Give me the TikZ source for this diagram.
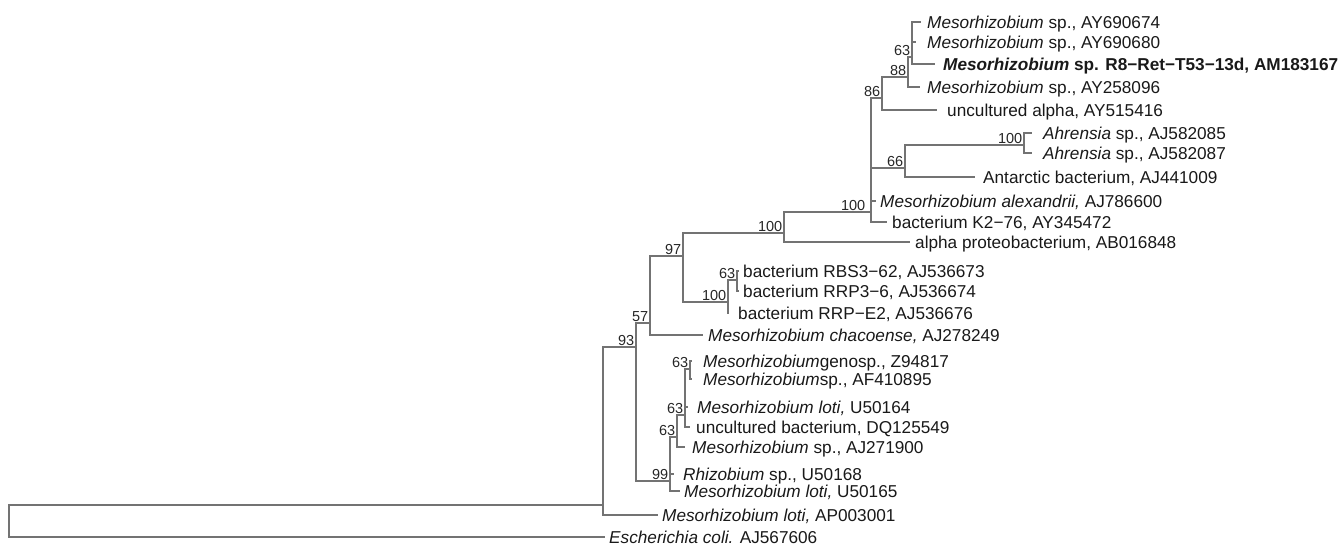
\documentclass[tikz,border=0pt]{standalone}
\usepackage{fontspec}
\setmainfont{Liberation Sans}
\begin{document}
\begin{tikzpicture}[x=1pt,y=-1pt,
  br/.style={draw=black!55, line width=1.4pt},
  leaf/.style={anchor=west, font=\fontsize{17.2}{20}\selectfont, text=black!90, inner ysep=0pt, text height=12pt, text depth=0pt},
  bs/.style={anchor=south east, font=\fontsize{14.5}{16}\selectfont, text=black!85, inner sep=1.5pt, text height=10.4pt, text depth=0pt}]
\useasboundingbox (0,0) rectangle (1341,544);
% internal nodes
\coordinate (root) at (9,521);
\coordinate (nA) at (603,505);
\coordinate (n93) at (636,347);
\coordinate (n57) at (650,323);
\coordinate (n97) at (683,256);
\coordinate (n100a) at (784,233);
\coordinate (n871) at (871,212);
\coordinate (n86) at (882,98);
\coordinate (n88) at (908,77);
\coordinate (n63t) at (912,57);
\coordinate (n66) at (905,168);
\coordinate (nAh) at (1024,145);
\coordinate (n100b) at (728,302);
\coordinate (n63d) at (737,280);
\coordinate (nLow) at (670,481);
\coordinate (n63c) at (677,437);
\coordinate (n63b) at (685,415);
\coordinate (n63a) at (690,369);
% leaves
\node[leaf, inner xsep=6pt] (l1) at (921,22) {\textit{Mesorhizobium} sp., AY690674};
\node[leaf, inner xsep=11pt] (l2) at (916,42) {\textit{Mesorhizobium} sp., AY690680};
\node[leaf, inner xsep=8pt] (l3) at (935,64) {\textbf{\textit{Mesorhizobium} sp. R8−Ret−T53−13d, AM183167}};
\node[leaf, inner xsep=7pt] (l4) at (920,87) {\textit{Mesorhizobium} sp., AY258096};
\node[leaf, inner xsep=10pt] (l5) at (937,110) {uncultured alpha, AY515416};
\node[leaf, inner xsep=11pt] (l6) at (1032,133) {\textit{Ahrensia} sp., AJ582085};
\node[leaf, inner xsep=11pt] (l7) at (1032,153) {\textit{Ahrensia} sp., AJ582087};
\node[leaf, inner xsep=8pt] (l8) at (975,177) {Antarctic bacterium, AJ441009};
\node[leaf, inner xsep=4pt] (l9) at (876,201) {\textit{Mesorhizobium alexandrii,} AJ786600};
\node[leaf, inner xsep=5pt] (l10) at (887,222) {bacterium K2−76, AY345472};
\node[leaf, inner xsep=5pt] (l11) at (910,242) {alpha proteobacterium, AB016848};
\node[leaf, inner xsep=4pt] (l12) at (739,271) {bacterium RBS3−62, AJ536673};
\node[leaf, inner xsep=4pt] (l13) at (739,291) {bacterium RRP3−6, AJ536674};
\node[leaf, inner xsep=9pt] (l14) at (729,313) {bacterium RRP−E2, AJ536676};
\node[leaf, inner xsep=5pt] (l15) at (703,335) {\textit{Mesorhizobium chacoense,} AJ278249};
\node[leaf, inner xsep=11pt] (l16) at (692,361) {\textit{Mesorhizobium}genosp., Z94817};
\node[leaf, inner xsep=11pt] (l17) at (692,379) {\textit{Mesorhizobium}sp., AF410895};
\node[leaf, inner xsep=9pt] (l18) at (688,407) {\textit{Mesorhizobium loti,} U50164};
\node[leaf, inner xsep=6pt] (l19) at (690,427) {uncultured bacterium, DQ125549};
\node[leaf, inner xsep=7pt] (l20) at (685,447) {\textit{Mesorhizobium} sp., AJ271900};
\node[leaf, inner xsep=9pt] (l21) at (674,474) {\textit{Rhizobium} sp., U50168};
\node[leaf, inner xsep=4pt] (l22) at (680,491) {\textit{Mesorhizobium loti,} U50165};
\node[leaf, inner xsep=4pt] (l23) at (658,515) {\textit{Mesorhizobium loti,} AP003001};
\node[leaf, inner xsep=4pt] (l24) at (605,537) {\textit{Escherichia coli.} AJ567606};
% branches
\draw[br] (root) |- (nA); \draw[br] (root) |- (l24.west);
\draw[br] (nA) |- (n93); \draw[br] (nA) |- (l23.west);
\draw[br] (n93) |- (n57); \draw[br] (n93) |- (nLow);
\draw[br] (n57) |- (n97); \draw[br] (n57) |- (l15.west);
\draw[br] (n97) |- (n100a); \draw[br] (n97) |- (n100b);
\draw[br] (n100a) |- (n871); \draw[br] (n100a) |- (l11.west);
\draw[br] (n871) |- (n86); \draw[br] (n871) |- (n66);
\draw[br] (n871) |- (l9.west); \draw[br] (n871) |- (l10.west);
\draw[br] (n86) |- (n88); \draw[br] (n86) |- (l5.west);
\draw[br] (n88) |- (n63t); \draw[br] (n88) |- (l4.west);
\draw[br] (n63t) |- (l1.west); \draw[br] (n63t) |- (l2.west); \draw[br] (n63t) |- (l3.west);
\draw[br] (n66) |- (nAh); \draw[br] (n66) |- (l8.west);
\draw[br] (nAh) |- (l6.west); \draw[br] (nAh) |- (l7.west);
\draw[br] (n100b) |- (n63d); \draw[br] (n100b) |- (l14.west);
\draw[br] (n63d) |- (l12.west); \draw[br] (n63d) |- (l13.west);
\draw[br] (nLow) |- (n63c); \draw[br] (nLow) |- (l21.west); \draw[br] (nLow) |- (l22.west);
\draw[br] (n63c) |- (n63b); \draw[br] (n63c) |- (l20.west);
\draw[br] (n63b) |- (n63a); \draw[br] (n63b) |- (l18.west); \draw[br] (n63b) |- (l19.west);
\draw[br] (n63a) |- (l16.west); \draw[br] (n63a) |- (l17.west);
% bootstrap values
\node[bs] (b1) at (n63t) {63};
\node[bs] (b2) at (n88) {88};
\node[bs] (b3) at (n86) {86};
\node[bs] (b4) at (nAh) {100};
\node[bs] (b5) at (n66) {66};
\node[bs, xshift=-4pt] (b6) at (n871) {100};
\node[bs] (b7) at (n100a) {100};
\node[bs] (b8) at (n97) {97};
\node[bs] (b9) at (n63d) {63};
\node[bs] (b10) at (n100b) {100};
\node[bs] (b11) at (n57) {57};
\node[bs] (b12) at (n93) {93};
\node[bs] (b13) at (n63a) {63};
\node[bs] (b14) at (n63b) {63};
\node[bs] (b15) at (n63c) {63};
\node[bs] (b16) at (nLow) {99};
\end{tikzpicture}
\end{document}
